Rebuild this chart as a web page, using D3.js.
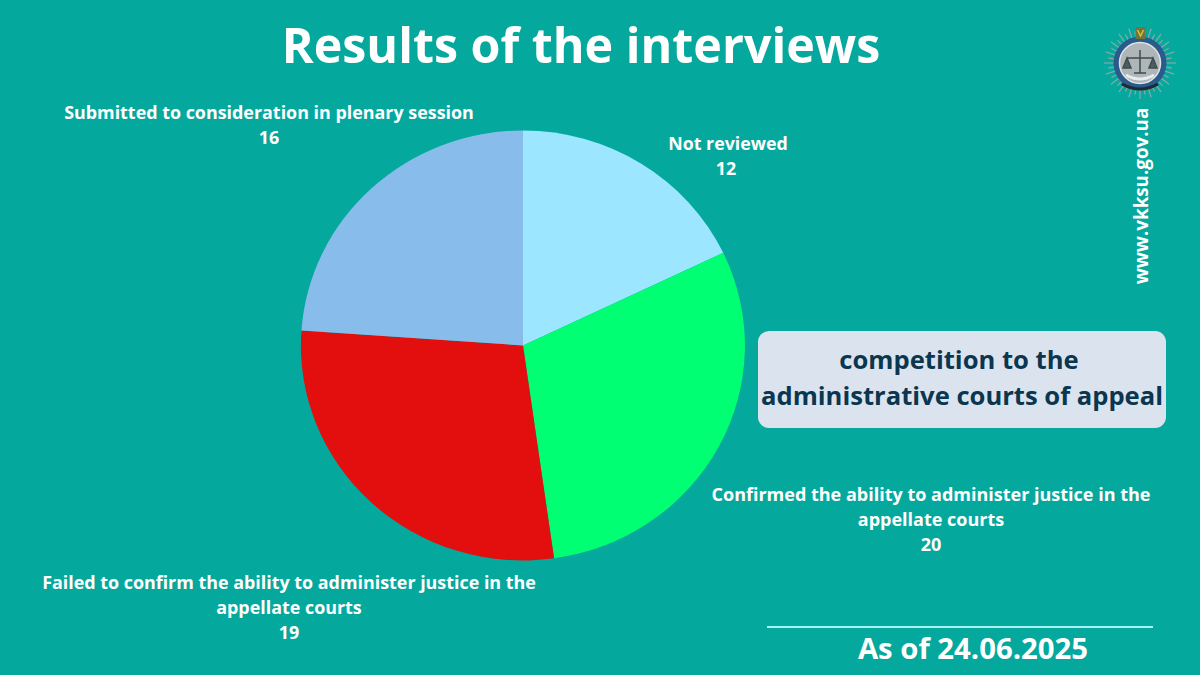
<!DOCTYPE html>
<html><head><meta charset="utf-8">
<script src="https://cdn.jsdelivr.net/npm/d3@7/dist/d3.min.js"></script>
<style>html,body{margin:0;padding:0;background:#05a89d;overflow:hidden}svg{display:block}text{font-family:"Open Sans",sans-serif;font-weight:700}</style>
</head><body><svg id="c" width="1200" height="675"></svg>
<script>
const categories=["Not reviewed","Confirmed the ability to administer justice in the appellate courts","Failed to confirm the ability to administer justice in the appellate courts","Submitted to consideration in plenary session"];
const values=[12,20,19,16];
const colors=["#9ce6ff","#00ff73","#e30e0e","#88bdeb"];
const labelLines=[["Not reviewed"],["Confirmed the ability to administer justice in the","appellate courts"],["Failed to confirm the ability to administer justice in the","appellate courts"],["Submitted to consideration in plenary session"]];
const labelPos=[[728,150],[931,501],[289,589],[269,119]];
const labelSizes=[17.8,18,17.9,17.9];
const title="Results of the interviews";
const boxLines=["competition to the","administrative courts of appeal"];
const dateText="As of 24.06.2025";
const site="www.vkksu.gov.ua";

const svg=d3.select("#c");
svg.append("rect").attr("width",1200).attr("height",675).attr("fill","#05a89d");
svg.append("text").attr("x",581).attr("y",63).attr("text-anchor","middle").attr("font-size",48.4).attr("fill","#fff").text(title);

const pie=d3.pie().sort(null).value(d=>d)(values);
const arc=d3.arc().innerRadius(0).outerRadius(1);
const g=svg.append("g").attr("transform","translate(523,345.5) scale(222,215)");
g.selectAll("path").data(pie).join("path").attr("d",arc).attr("fill",(d,i)=>colors[i]);

labelLines.forEach((lines,i)=>{
  const t=svg.append("text").attr("text-anchor","middle").attr("font-size",labelSizes[i]).attr("fill","#fff");
  lines.concat(String(values[i])).forEach((s,j)=>{
    t.append("tspan").attr("x",labelPos[i][0]-(i===0&&j===1?2:0)).attr("y",labelPos[i][1]+j*25).text(s);
  });
});

svg.append("rect").attr("x",758).attr("y",331).attr("width",408).attr("height",97).attr("rx",11).attr("fill","#dbe4ee");
boxLines.forEach((s,i)=>svg.append("text").attr("x",i?962:959).attr("y",369+i*35.5).attr("text-anchor","middle").attr("font-size",25.6).attr("fill","#0a3650").text(s));

svg.append("line").attr("x1",767).attr("x2",1153).attr("y1",627).attr("y2",627).attr("stroke","#a6f3f3").attr("stroke-width",2);
svg.append("text").attr("x",973).attr("y",659).attr("text-anchor","middle").attr("font-size",29.3).attr("fill","#fff").text(dateText);

svg.append("text").attr("transform","translate(1148,196) rotate(-90)").attr("text-anchor","middle").attr("font-size",18.8).attr("fill","#fff").text(site);

// emblem
const e=svg.append("g").attr("transform","translate(1140,63)");
const rays=d3.range(40);
e.selectAll("line.r").data(rays).join("line").attr("x1",d=>24*Math.cos(d*Math.PI/20)).attr("y1",d=>24*Math.sin(d*Math.PI/20)).attr("x2",d=>(d%2?32:36)*Math.cos(d*Math.PI/20)).attr("y2",d=>(d%2?32:36)*Math.sin(d*Math.PI/20)).attr("stroke","#7fa9a8").attr("stroke-width",1.3);
e.append("circle").attr("r",26.5).attr("fill","#2b5a8c");
e.append("circle").attr("r",20.5).attr("fill","#aeb6b8").attr("stroke","#dfe4e6").attr("stroke-width",1.5);
e.append("path").attr("d","M-13,-5H13M0,-13V10M-6,10H6M-13,-5L-17,5H-9ZM13,-5L9,5H17Z").attr("fill","#4f5c60").attr("stroke","#3f4b50").attr("stroke-width",1.5);
e.append("path").attr("d","M-14,12Q0,20 14,12").attr("fill","none").attr("stroke","#e8ecee").attr("stroke-width",3);
e.append("path").attr("d","M-18,21Q0,31 18,21").attr("fill","none").attr("stroke","#1e2a30").attr("stroke-width",3);
e.append("rect").attr("x",-4.5).attr("y",-36).attr("width",10).attr("height",12).attr("fill","#6f7440");
e.append("path").attr("d","M-2.5,-33L0.5,-27L3.5,-33").attr("fill","none").attr("stroke","#e2c531").attr("stroke-width",1.4);
</script></body></html>
